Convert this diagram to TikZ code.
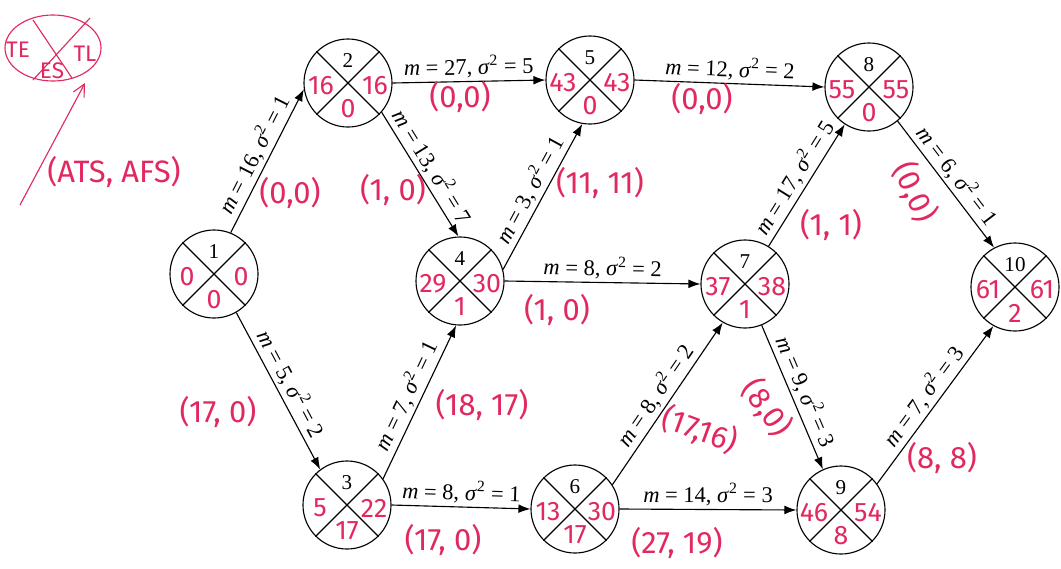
\documentclass[tikz,border=0pt]{standalone}
\usepackage{fontspec}
\newfontfamily\hand{Fira Sans}
\newfontfamily\tms{Liberation Serif}
\usetikzlibrary{arrows.meta,shapes.geometric}
\definecolor{hred}{RGB}{225,40,95}
\tikzset{
 ev/.style={circle,draw,line width=0.8pt,minimum size=2.2cm,inner sep=0pt},
 evnum/.style={font=\tms\fontsize{15}{17}\selectfont,inner sep=0pt},
 val/.style={text=hred,font=\hand\fontsize{19}{21}\selectfont,inner sep=0pt},
 pair/.style={text=hred,font=\hand\fontsize{22}{26}\selectfont,inner sep=0pt},
 act/.style={draw,line width=0.8pt,-{Latex[length=3mm,width=2.2mm]}},
 elab/.style={font=\tms\fontsize{16}{18}\selectfont,sloped,above,inner sep=2pt},
 legtext/.style={text=hred,font=\hand\fontsize{16}{18}\selectfont,inner sep=0pt},
}
\newcommand\ml[2]{\textit{m} = #1, \textit{σ}\textsuperscript{2} = #2}
\newcommand\evnode[7]{%
 \node[ev] (#1) at (#2,#3) {};
 \draw[line width=0.8pt] (#1.45)--(#1.225) (#1.135)--(#1.315);
 \node[evnum] (#1-n) at ([shift={(0,-22)}]#1.center) {#4};
 \node[val] (#1-l) at ([shift={(-27,3)}]#1.center) {#5};
 \node[val] (#1-r) at ([shift={(27,3)}]#1.center) {#6};
 \node[val] (#1-b) at ([shift={(0,26)}]#1.center) {#7};
}
\begin{document}
\begin{tikzpicture}[x=0.025cm,y=-0.025cm]
\useasboundingbox (0,0) rectangle (1061,568);
\fill[white] (0,0) rectangle (1061,568);
% legend
\node[ellipse,draw=hred,line width=0.8pt,minimum width=2.4cm,minimum height=1.65cm,inner sep=0pt] (leg) at (53,48) {};
\draw[hred,line width=0.8pt] (33,20)--(72,78) (90,18)--(33,80);
\node[legtext] (legte) at (18,50) {TE};
\node[legtext] (legtl) at (85,54) {TL};
\node[legtext] (leges) at (52,71) {ES};
\coordinate (legtail) at (20,205);
\coordinate (leghead) at (85,83);
\draw[hred,line width=0.8pt,-{Straight Barb[length=3mm,width=3mm]}] (legtail) -- (leghead);
\node[pair] (legats) at (114,172) {(ATS, AFS)};
% events
\evnode{n1}{214}{274}{1}{0}{0}{0}
\evnode{n2}{348}{83}{2}{16}{16}{0}
\evnode{n3}{347}{505}{3}{5}{22}{17}
\evnode{n4}{460}{281}{4}{29}{30}{1}
\evnode{n5}{590}{80}{5}{43}{43}{0}
\evnode{n6}{575}{509}{6}{13}{30}{17}
\evnode{n7}{745}{284}{7}{37}{38}{1}
\evnode{n8}{869}{87}{8}{55}{55}{0}
\evnode{n9}{841}{510}{9}{46}{54}{8}
\evnode{n10}{1015}{287}{10}{61}{61}{2}
% activities
\draw[act] (n1.68) -- node[elab]{\ml{16}{1}} (n2.188);
\draw[act] (n1.-60) -- node[elab]{\ml{5}{2}} (n3.127);
\draw[act] (n2.east) -- node[elab]{\ml{27}{5}} (n5.west);
\draw[act] (n2.-41) -- node[elab]{\ml{13}{7}} (n4.92);
\draw[act] (n4.15) -- node[elab]{\ml{3}{1}} (n5.260);
\draw[act] (n4.east) -- node[elab]{\ml{8}{2}} (n7.west);
\draw[act] (n5.east) -- node[elab]{\ml{12}{2}} (n8.west);
\draw[act] (n7.58) -- node[elab]{\ml{17}{5}} (n8.237);
\draw[act] (n8.-50) -- node[elab]{\ml{6}{1}} (n10.118);
\draw[act] (n3.36) -- node[elab]{\ml{7}{1}} (n4.265);
\draw[act] (n3.east) -- node[elab]{\ml{8}{1}} (n6.west);
\draw[act] (n6.33) -- node[elab]{\ml{8}{2}} (n7.240);
\draw[act] (n6.east) -- node[elab]{\ml{14}{3}} (n9.west);
\draw[act] (n7.-68) -- node[elab]{\ml{9}{3}} (n9.114);
\draw[act] (n9.36) -- node[elab]{\ml{7}{3}} (n10.241);
% handwritten pairs
\node[pair] (p12) at (290,193) {(0,0)};
\node[pair] (p24) at (393,190) {(1, 0)};
\node[pair] (p25) at (460,97) {(0,0)};
\node[pair] (p58) at (702,99) {(0,0)};
\node[pair] (p45) at (600,183) {(11, 11)};
\node[pair] (p47) at (557,310) {(1, 0)};
\node[pair] (p78) at (831,225) {(1, 1)};
\node[pair,rotate=-65] (p810) at (915,192) {(0,0)};
\node[pair] (p13) at (218,412) {(17, 0)};
\node[pair] (p34) at (482,405) {(18, 17)};
\node[pair] (p36) at (443,540) {(17, 0)};
\node[pair,rotate=-20] (p67) at (700,430) {(17,16)};
\node[pair,rotate=-55] (p79) at (767,408) {(8,0)};
\node[pair] (p69) at (677,543) {(27, 19)};
\node[pair] (p910) at (942,458) {(8, 8)};
\end{tikzpicture}
\end{document}
